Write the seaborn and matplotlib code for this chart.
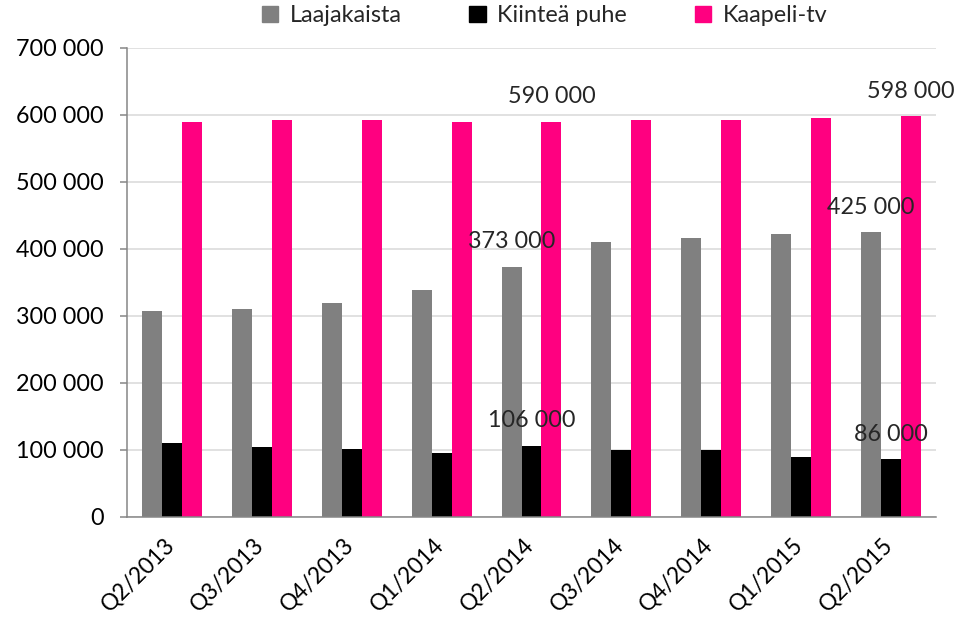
import pandas as pd
import seaborn as sns
import matplotlib.pyplot as plt
from matplotlib.ticker import FuncFormatter, MultipleLocator
from matplotlib.transforms import ScaledTranslation

# Values
quarters = ["Q2/2013", "Q3/2013", "Q4/2013", "Q1/2014", "Q2/2014",
            "Q3/2014", "Q4/2014", "Q1/2015", "Q2/2015"]
laajakaista = [308000, 311000, 320000, 338000, 373000, 410000, 416000, 422000, 425000]
kiintea_puhe = [111000, 105000, 102000, 96000, 106000, 100000, 100000, 90000, 86000]
kaapeli_tv = [589000, 592000, 592000, 589000, 590000, 592000, 592000, 595000, 598000]
series_names = ["Laajakaista", "Kiinteä puhe", "Kaapeli-tv"]
colors = ["#808080", "#000000", "#FF0080"]
labeled_quarters = ["Q2/2014", "Q2/2015"]

df = pd.DataFrame({"quarter": quarters * 3,
                   "value": laajakaista + kiintea_puhe + kaapeli_tv,
                   "series": [s for s in series_names for _ in quarters]})

sns.set_theme(style="white")
plt.rcParams['font.family'] = ['Lato', 'DejaVu Sans']
fs = 16.8

fig = plt.figure(figsize=(9.69, 6.21), dpi=100)
ax = fig.add_axes([0.1315, 0.1675, 0.834, 0.7555])

bar_w = 0.667
sns.barplot(data=df, x="quarter", y="value", hue="series", palette=colors,
            width=bar_w, gap=0, saturation=1, linewidth=0, ax=ax, legend=False)

ax.set_xlim(-0.5, len(quarters) - 0.5)
ax.set_ylim(0, 700000)
ax.yaxis.set_major_locator(MultipleLocator(100000))
ax.yaxis.set_major_formatter(FuncFormatter(lambda v, p: f"{int(v):,}".replace(",", " ")))
ax.grid(axis="y", color="#D9D9D9", linewidth=1.1)
ax.set_axisbelow(True)
ax.set_xlabel("")
ax.set_ylabel("")

for s in ["top", "right"]:
    ax.spines[s].set_visible(False)
for s in ["left", "bottom"]:
    ax.spines[s].set_color("#868686")
    ax.spines[s].set_linewidth(1.1)

# tick marks at category boundaries, labels at centres
ax.set_xticks([i - 0.5 for i in range(len(quarters) + 1)], minor=True)
ax.tick_params(axis="x", which="minor", length=5, width=1.1, color="#868686", direction="out")
ax.tick_params(axis="x", which="major", length=0, pad=12, labelsize=16.3, colors="black")
ax.tick_params(axis="y", length=5, width=1.1, color="#868686", direction="out", pad=12,
               labelsize=fs, colors="black", left=True)
shift = ScaledTranslation(6 / 100, 0, fig.dpi_scale_trans)
for lbl in ax.get_xticklabels():
    lbl.set_rotation(45)
    lbl.set_ha("right")
    lbl.set_transform(lbl.get_transform() + shift)

# data labels on selected quarters
data_lists = [laajakaista, kiintea_puhe, kaapeli_tv]
for q in labeled_quarters:
    i = quarters.index(q)
    for j, vals in enumerate(data_lists):
        x = i + (j - 1) * bar_w / 3
        ax.annotate(f"{vals[i]:,}".replace(",", " "), (x, vals[i]), xytext=(0, 18),
                    textcoords="offset points", ha="center", va="center",
                    fontsize=fs, annotation_clip=False)

handles = [plt.Rectangle((0, 0), 1, 1, color=c) for c in colors]
fig.legend(handles, series_names, loc="center", bbox_to_anchor=(0.562, 0.975), ncol=3,
           frameon=False, fontsize=fs, handlelength=0.7, handleheight=0.7,
           handletextpad=0.5, columnspacing=2.9)

fig.savefig("out.png", dpi=100)
